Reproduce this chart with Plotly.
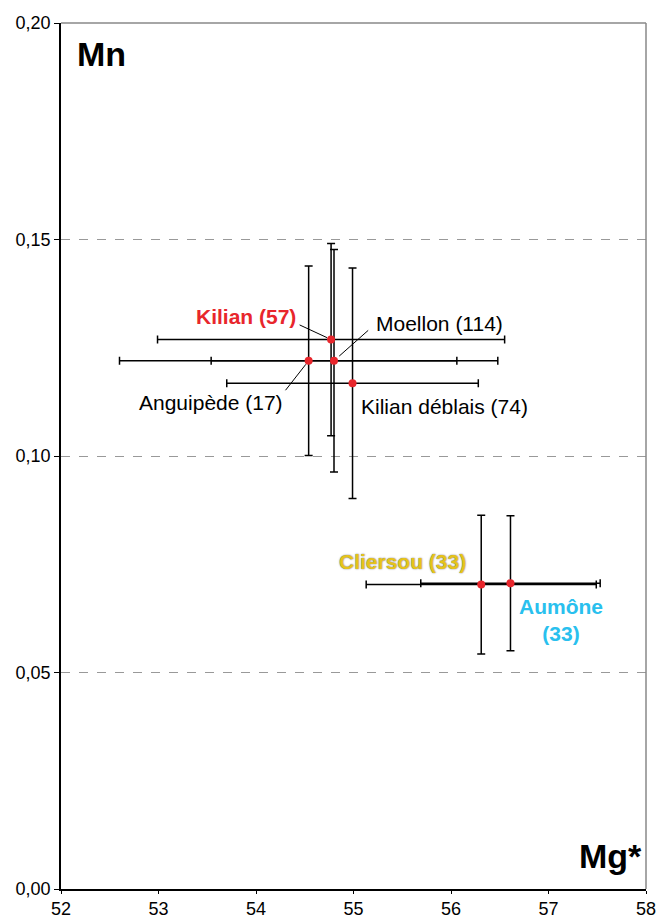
import plotly.graph_objects as go

# ---- data ----
series = ["Kilian (57)", "Moellon (114)", "Anguipède (17)", "Kilian déblais (74)", "Cliersou (33)", "Aumône (33)"]
mg = [54.77, 54.80, 54.54, 54.99, 56.31, 56.61]
mg_err = [1.78, 1.26, 1.94, 1.29, 1.18, 0.92]
mn = [0.1269, 0.1220, 0.1220, 0.1168, 0.0703, 0.0706]
mn_err = [0.0222, 0.0257, 0.0219, 0.0266, 0.0160, 0.0156]

x_ticks = [52, 53, 54, 55, 56, 57, 58]
y_ticks = [0.00, 0.05, 0.10, 0.15, 0.20]

FONT = "Liberation Sans, Arial, Helvetica, sans-serif"

fig = go.Figure()

# error bars (one trace per series), invisible markers
for i, name in enumerate(series):
    fig.add_trace(go.Scatter(
        x=[mg[i]], y=[mn[i]], mode="markers", name=name,
        marker=dict(size=1, color="rgba(0,0,0,0)"),
        error_x=dict(type="data", array=[mg_err[i]], color="black", thickness=1.5, width=4),
        error_y=dict(type="data", array=[mn_err[i]], color="black", thickness=1.5, width=4),
        showlegend=False, hoverinfo="skip",
    ))

# red mean points on top
fig.add_trace(go.Scatter(
    x=mg, y=mn, mode="markers", text=series,
    marker=dict(size=8, color="#E8262C"), showlegend=False,
))

# label styling / offsets (pixels relative to each point)
label_style = {
    "Kilian (57)": dict(color="#E8262C", bold=True, dx=-85, dy=22.6, lines=None),
    "Moellon (114)": dict(color="black", bold=False, dx=105, dy=37.4, lines=None),
    "Anguipède (17)": dict(color="black", bold=False, dx=-97.5, dy=-42, lines=None),
    "Kilian déblais (74)": dict(color="black", bold=False, dx=91.6, dy=-23.4, lines=None),
    "Cliersou (33)": dict(color="#E6C31A", bold=True, dx=-79, dy=23, lines=None),
    "Aumône (33)": dict(color="#29C0EE", bold=True, dx=51, dy=-37, lines="Aumône<br>(33)"),
}
leaders = {
    "Kilian (57)": (-33, -15.3, 4.5),
    "Moellon (114)": (35.7, -31.7, 7),
    "Anguipède (17)": (-24.3, 31, 4.5),
}

annotations = []
for i, name in enumerate(series):
    st = label_style[name]
    txt = st["lines"] or name
    if st["bold"]:
        txt = "<b>" + txt + "</b>"
    font = dict(family=FONT, size=21, color=st["color"])
    if name.startswith("Cliersou"):
        font["shadow"] = "0px 0px 1.5px #555"
    annotations.append(dict(
        x=mg[i], y=mn[i], xref="x", yref="y", text=txt, showarrow=False,
        xshift=st["dx"], yshift=st["dy"], font=font, xanchor="center", yanchor="middle",
    ))
    if name in leaders:
        ax, ay, so = leaders[name]
        annotations.append(dict(
            x=mg[i], y=mn[i], xref="x", yref="y", text="", showarrow=True,
            ax=ax, ay=ay, arrowhead=0, arrowwidth=1, arrowcolor="black", standoff=so,
        ))

annotations.append(dict(x=0, y=1, xref="paper", yref="paper", text="<b>Mn</b>", showarrow=False,
                        xanchor="left", yanchor="top", xshift=14, yshift=-10,
                        font=dict(family=FONT, size=34, color="black")))
annotations.append(dict(x=1, y=0, xref="paper", yref="paper", text="<b>Mg*</b>", showarrow=False,
                        xanchor="right", yanchor="bottom", xshift=-2, yshift=12,
                        font=dict(family=FONT, size=34, color="black")))

shapes = [
    dict(type="line", xref="paper", yref="paper", x0=0, x1=1, y0=1, y1=1, line=dict(color="#888888", width=1.5)),
    dict(type="line", xref="paper", yref="paper", x0=1, x1=1, y0=0, y1=1, line=dict(color="#888888", width=1.5)),
]

fig.update_layout(
    width=658, height=918,
    margin=dict(l=61, r=12, t=23, b=29),
    paper_bgcolor="white", plot_bgcolor="white",
    separators=",.",
    annotations=annotations, shapes=shapes,
    font=dict(family=FONT, color="black"),
)
fig.update_xaxes(
    range=[52, 58], tickvals=x_ticks, ticktext=[str(v) for v in x_ticks],
    showgrid=False, zeroline=False, showline=True, linecolor="black", linewidth=1.5,
    ticks="outside", ticklen=3, tickcolor="black", tickfont=dict(size=18, family=FONT),
    automargin=False,
)
fig.update_yaxes(
    range=[0, 0.20], tickvals=y_ticks, tickformat=".2f",
    showgrid=True, gridcolor="#999999", griddash="dash", gridwidth=1,
    zeroline=False, showline=True, linecolor="black", linewidth=1.5,
    ticks="outside", ticklen=5, tickcolor="black", tickfont=dict(size=18, family=FONT),
    automargin=False,
)

fig.write_html("out.html", config={"displayModeBar": False},
               post_script="document.body.style.margin='0';document.body.style.overflow='hidden';")
